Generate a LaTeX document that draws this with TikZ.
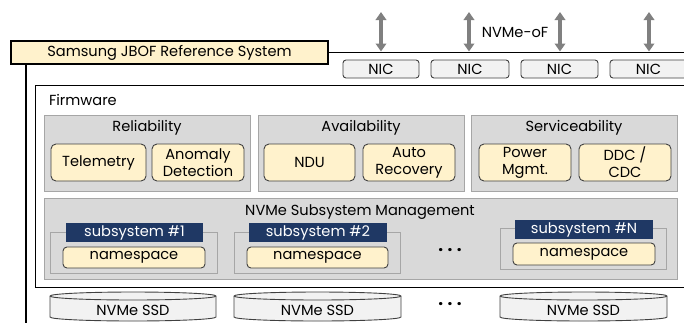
\documentclass[tikz,border=0pt]{standalone}
\usepackage{fontspec}
\setmainfont{Poppins}
\usetikzlibrary{arrows.meta}

\definecolor{beige}{HTML}{FFF2CC}
\definecolor{grpfill}{HTML}{D9D9D9}
\definecolor{grpline}{HTML}{A6A6A6}
\definecolor{navy}{HTML}{1F3864}
\definecolor{lightfill}{HTML}{F2F2F2}
\definecolor{edge}{HTML}{404040}
\definecolor{arrowgray}{HTML}{808080}

% box from pixel corners: name, style, x1, y1, x2, y2, text
\newcommand\pxbox[7]{%
  \node[#2, minimum width={(#5-#3)*1pt}, minimum height={(#6-#4)*1pt}]
    (#1) at ({(#3+#5)/2},{(#4+#6)/2}) {#7};}

% storage cylinder: left x, right x
\newcommand\ssdcyl[2]{%
  \pgfmathsetmacro\rx{(#2-#1)/2}
  \filldraw[fill=lightfill, draw=edge, line width=0.9pt]
    (#1,296) -- (#1,317) arc[start angle=180, end angle=360, x radius=\rx pt, y radius=4pt]
    -- (#2,296) arc[start angle=0, end angle=180, x radius=\rx pt, y radius=4pt] -- cycle;
  \draw[edge, line width=0.9pt]
    (#1,296) arc[start angle=180, end angle=360, x radius=\rx pt, y radius=4pt];}

\tikzset{
  base/.style={inner sep=0pt, outer sep=0pt, align=center,
    font=\fontsize{14.6}{17}\selectfont},
  labelbox/.style={base, fill=beige, draw=black, line width=1.1pt},
  nicbox/.style={base, fill=lightfill, draw=edge, line width=0.9pt, rounded corners=3pt},
  grpbox/.style={base, fill=grpfill, draw=grpline, line width=1pt},
  featbox/.style={base, fill=beige, draw=edge, line width=0.9pt, rounded corners=5pt},
  subframe/.style={base, draw=grpline, line width=0.9pt},
  sublabel/.style={base, fill=navy, text=white},
  nsbox/.style={base, fill=beige, draw=edge, line width=0.9pt, rounded corners=4pt},
  plaintext/.style={base},
  dotstext/.style={base, font=\fontsize{17}{17}\bfseries},
  bigarrow/.style={arrowgray, line width=4pt,
    {Triangle[width=10.5pt,length=8pt]}-{Triangle[width=10.5pt,length=8pt]}},
  sysline/.style={black, line width=1.1pt},
  fwline/.style={black, line width=1pt},
}

\begin{document}
\begin{tikzpicture}[x=1pt, y=-1pt]
  \useasboundingbox (0,0) rectangle (684,322);
  \clip (0,0) rectangle (684,322);

  % system frame and its title tab
  \draw[sysline] (26,52.5) rectangle (720,360);
  \pxbox{sys}{labelbox}{11}{41}{328}{64}{Samsung JBOF Reference System}

  % network interfaces and fabric links
  \pxbox{nic1}{nicbox}{343}{60}{419}{78}{NIC}
  \pxbox{nic2}{nicbox}{431}{60}{509}{78}{NIC}
  \pxbox{nic3}{nicbox}{521}{60}{598}{78}{NIC}
  \pxbox{nic4}{nicbox}{610}{60}{687}{78}{NIC}
  \foreach \i/\ax in {1/381, 2/469, 3/560, 4/649} {
    \coordinate (up\i) at (\ax,12);
    \coordinate (dn\i) at (\ax,51.5);
    \draw[bigarrow] (up\i) -- (dn\i);
  }
  \node[plaintext] (fabric) at (515,32) {NVMe-oF};

  % firmware
  \draw[fwline] (35,85) rectangle (720,287.5);
  \node[plaintext, anchor=west] (fw) at (49,100) {Firmware};

  \pxbox{rel}{grpbox}{44}{115}{250}{191}{}
  \pxbox{ava}{grpbox}{258}{115}{464}{191}{}
  \pxbox{ser}{grpbox}{471}{115}{677}{191}{}
  \node[plaintext] (relt) at (147,128) {Reliability};
  \node[plaintext] (avat) at (361,128) {Availability};
  \node[plaintext] (sert) at (574,128) {Serviceability};

  \pxbox{tel}{featbox}{51}{144}{146}{181}{Telemetry}
  \pxbox{ano}{featbox}{152}{144}{244}{181}{Anomaly\\Detection}
  \pxbox{ndu}{featbox}{264}{144}{355}{181}{NDU}
  \pxbox{rec}{featbox}{363}{144}{455}{181}{Auto\\Recovery}
  \pxbox{pwr}{featbox}{479}{144}{571}{181}{Power\\Mgmt.}
  \pxbox{ddc}{featbox}{579}{144}{671}{181}{DDC /\\CDC}

  % subsystem management
  \pxbox{mgmt}{grpbox}{44}{198}{677}{279}{}
  \node[plaintext] (mgmtt) at (360,212) {NVMe Subsystem Management};

  \pxbox{sf1}{subframe}{50}{232}{217}{273}{}
  \pxbox{sl1}{sublabel}{66}{223}{203}{242}{subsystem \#1}
  \pxbox{ns1}{nsbox}{63}{247}{205}{268}{namespace}

  \pxbox{sf2}{subframe}{234}{232}{400}{273}{}
  \pxbox{sl2}{sublabel}{249}{223}{387}{242}{subsystem \#2}
  \pxbox{ns2}{nsbox}{247}{247}{388}{268}{namespace}

  \pxbox{sfN}{subframe}{500}{228}{666}{269}{}
  \pxbox{slN}{sublabel}{515}{220}{653}{239}{subsystem \#N}
  \pxbox{nsN}{nsbox}{513}{243}{655}{265}{namespace}

  \node[dotstext] (dotsA) at (450,250) {.\hspace{4.5pt}.\hspace{4.5pt}.};

  % drives
  \ssdcyl{50}{216}
  \ssdcyl{234}{401}
  \ssdcyl{500}{667}
  \node[plaintext] (ssd1) at (133,310) {NVMe SSD};
  \node[plaintext] (ssd2) at (317.5,310) {NVMe SSD};
  \node[plaintext] (ssdN) at (583.5,310) {NVMe SSD};
  \node[dotstext] (dotsB) at (450,304) {.\hspace{4.5pt}.\hspace{4.5pt}.};
\end{tikzpicture}
\end{document}
